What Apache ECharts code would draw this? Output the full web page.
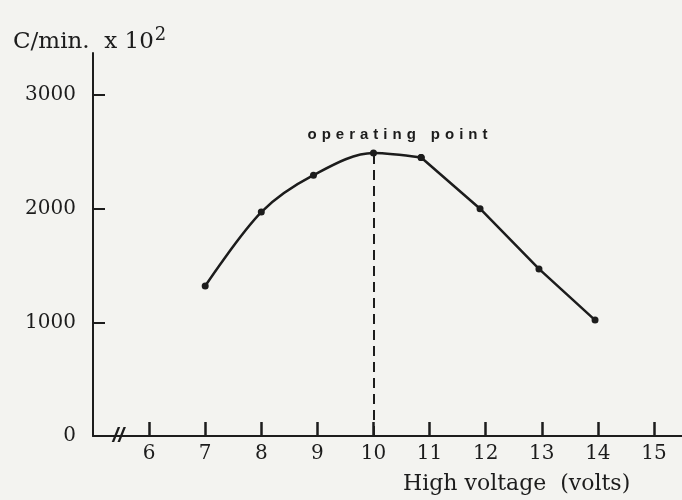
<!DOCTYPE html>
<html>
<head>
<meta charset="utf-8">
<script src="https://cdn.jsdelivr.net/npm/echarts@6/dist/echarts.min.js"></script>
<style>
  html, body { margin: 0; padding: 0; background: #f3f3f0; }
  #chart { width: 682px; height: 500px; }
</style>
</head>
<body>
<div id="chart"></div>
<script>
// readings (volts, counts/min x 10^2)
const voltage = [7, 8, 8.93, 10, 10.85, 11.9, 12.95, 13.95]
const counts = [1320, 1970, 2295, 2490, 2450, 2000, 1470, 1020]

const xTicks = [6, 7, 8, 9, 10, 11, 12, 13, 14, 15]
const yTicks = [1000, 2000, 3000]
const yLabels = [0, 1000, 2000, 3000]

const operatingV = 10
const operatingC = 2490
// curve is drawn bent up to the knee, straight after it
const knee = 4

const ink = '#1c1c1c'
const serif = 'DejaVu Serif'

const points = voltage.map((v, i) => [v, counts[i]])

const chart = echarts.init(document.getElementById('chart'))

// wide tracking like the original lettering
const spaced = s => s.split(' ').map(w => w.split('').join('\u2004')).join('\u2004\u2004\u2004')

const opts = {
  backgroundColor: '#f3f3f0',
  animation: false,
  title: [{
    text: 'C/min.  x 10{sup|2}',
    left: 8,
    top: 21,
    textStyle: {
      fontFamily: serif,
      fontSize: 23,
      fontWeight: 'normal',
      color: ink,
      rich: {
        sup: { fontFamily: serif, fontSize: 18, color: ink, verticalAlign: 'top', padding: [0, 0, 14, 1] },
      },
    },
  }, {
    text: 'High voltage  (volts)',
    left: 398,
    top: 468,
    textStyle: { fontFamily: serif, fontSize: 22, fontWeight: 'normal', color: ink },
  }],
  grid: { left: 93, right: 0, top: 53, bottom: 64 },
  xAxis: {
    type: 'value',
    min: 5,
    max: 15.5,
    interval: 1,
    splitLine: { show: false },
    axisLine: { show: true, lineStyle: { color: ink, width: 2 } },
    axisTick: { inside: true, length: 14, customValues: xTicks, lineStyle: { color: ink, width: 2.5 } },
    axisLabel: { customValues: xTicks, fontFamily: serif, fontSize: 20, color: ink, margin: 8 },
  },
  yAxis: {
    type: 'value',
    min: 0,
    max: 3370,
    interval: 1000,
    splitLine: { show: false },
    axisLine: { show: true, lineStyle: { color: ink, width: 2 } },
    axisTick: { inside: true, length: 12, customValues: yTicks, lineStyle: { color: ink, width: 2 } },
    axisLabel: {
      customValues: yLabels,
      formatter: v => String(v),
      fontFamily: serif,
      fontSize: 20,
      color: ink,
      margin: 17,
    },
  },
  series: [{
    type: 'line',
    data: points.slice(0, knee + 1),
    smooth: 0.33,
    symbol: 'circle',
    symbolSize: 7,
    lineStyle: { color: ink, width: 2.5 },
    itemStyle: { color: ink },
    markLine: {
      silent: true,
      symbol: 'none',
      label: { show: false },
      lineStyle: { color: ink, width: 2, type: [10, 6] },
      data: [[{ coord: [operatingV, 0] }, { coord: [operatingV, operatingC] }]],
    },
    markPoint: {
      silent: true,
      symbol: 'circle',
      symbolSize: 0,
      data: [{
        coord: [operatingV, operatingC],
        label: {
          show: true,
          formatter: spaced('operating point'),
          position: 'top',
          offset: [24, -6],
          fontFamily: 'Liberation Sans',
          fontWeight: 'bold',
          fontSize: 15,
          color: ink,
        },
      }, {
        coord: [5.45, 0],
        label: {
          show: true,
          formatter: '//',
          position: 'inside',
          fontFamily: 'Liberation Sans',
          fontWeight: 'bold',
          fontStyle: 'italic',
          fontSize: 21,
          color: ink,
        },
      }],
    },
  }, {
    type: 'line',
    data: points.slice(knee),
    smooth: false,
    symbol: 'circle',
    symbolSize: 7,
    lineStyle: { color: ink, width: 2.5 },
    itemStyle: { color: ink },
  }],
}

chart.setOption(opts)
</script>
</body>
</html>
